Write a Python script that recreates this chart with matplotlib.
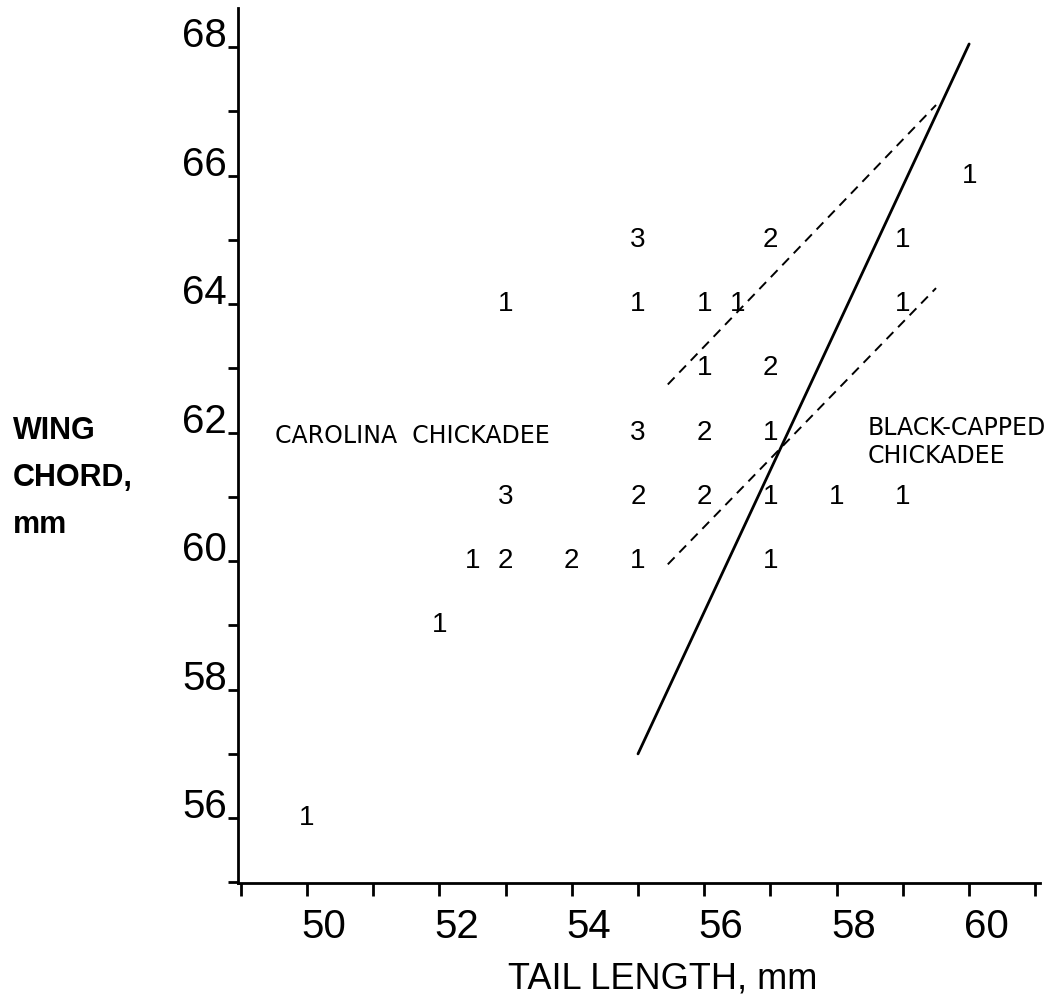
import matplotlib
matplotlib.use("Agg")
import matplotlib.pyplot as plt
import matplotlib.transforms as mtrans

FONT = ['Liberation Sans', 'DejaVu Sans']
plt.rcParams['font.family'] = FONT

# Data: tail length (x), wing chord (y), number of birds (label)
tail = [50, 52, 52.5, 53, 54, 55, 57,
        53, 55, 56, 57, 58, 59,
        55, 56, 57,
        56, 57,
        53, 55, 56, 56.5, 59,
        55, 57, 59,
        60]
wing = [56, 59, 60, 60, 60, 60, 60,
        61, 61, 61, 61, 61, 61,
        62, 62, 62,
        63, 63,
        64, 64, 64, 64, 64,
        65, 65, 65,
        66]
count = [1, 1, 1, 2, 2, 1, 1,
         3, 2, 2, 1, 1, 1,
         3, 2, 1,
         1, 2,
         1, 1, 1, 1, 1,
         3, 2, 1,
         1]

solid_x = [55, 60]
solid_y = [57, 68.05]
dash_upper_x = [55.45, 59.5]
dash_upper_y = [62.75, 67.1]
dash_lower_x = [55.45, 59.5]
dash_lower_y = [59.95, 64.25]

xticks = [50, 52, 54, 56, 58, 60]
yticks = [56, 58, 60, 62, 64, 66, 68]

W, H = 1059, 998
fig = plt.figure(figsize=(W / 100, H / 100), dpi=100)
ax = fig.add_axes([238 / W, 1 - 883 / H, (1040 - 238) / W, (883 - 8) / H])
ax.set_xlim(48.96, 61.07)
ax.set_ylim(54.99, 68.61)

for s in ['top', 'right']:
    ax.spines[s].set_visible(False)
for s in ['left', 'bottom']:
    ax.spines[s].set_linewidth(2.0)

ax.set_xticks(xticks)
ax.set_xticks(range(49, 62), minor=True)
ax.set_yticks(yticks)
ax.set_yticks(range(55, 69), minor=True)
ax.set_xticklabels([str(v) for v in xticks])
ax.set_yticklabels([str(v) for v in yticks])
ax.tick_params(axis='both', which='both', direction='out', width=2.0, colors='black')
ax.tick_params(axis='x', which='both', length=9, pad=9, labelsize=29)
ax.tick_params(axis='y', which='both', length=7, pad=1, labelsize=29)

dx = mtrans.ScaledTranslation(0.17, 0, fig.dpi_scale_trans)
for lab in ax.get_xticklabels():
    lab.set_transform(lab.get_transform() + dx)
dy = mtrans.ScaledTranslation(0, 0.15, fig.dpi_scale_trans)
for lab in ax.get_yticklabels():
    lab.set_transform(lab.get_transform() + dy)

for x, y, c in zip(tail, wing, count):
    ax.text(x, y, str(c), ha='center', va='center', fontsize=20)

ax.plot(solid_x, solid_y, color='black', lw=2.0, solid_capstyle='round')
ax.plot(dash_upper_x, dash_upper_y, color='black', lw=1.4, dashes=(5, 3.5))
ax.plot(dash_lower_x, dash_lower_y, color='black', lw=1.4, dashes=(5, 3.5))

ax.text(49.52, 61.95, 'CAROLINA  CHICKADEE', ha='left', va='center', fontsize=17,
        family=['DejaVu Sans'])
ax.text(58.47, 61.86, 'BLACK-CAPPED\nCHICKADEE', ha='left', va='center', fontsize=17,
        linespacing=1.2, family=['DejaVu Sans'])

fig.text(13 / W, 1 - 478 / H, 'WING\nCHORD,\nmm', ha='left', va='center',
         fontsize=22, fontweight='bold', linespacing=1.75)
fig.text(663 / W, 1 - 979 / H, 'TAIL LENGTH, mm', ha='center', va='center',
         fontsize=26)

fig.savefig('out.png', dpi=100)
